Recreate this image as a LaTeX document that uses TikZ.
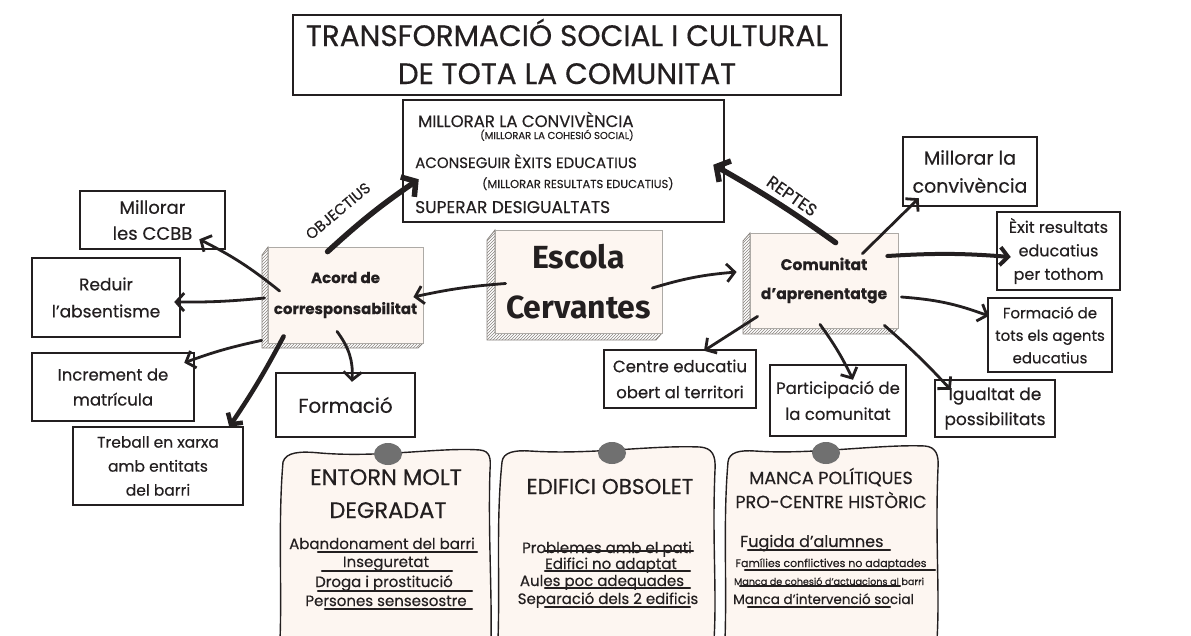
\documentclass[tikz,border=0pt]{standalone}
\usepackage{fontspec}
\setmainfont{Poppins}[FakeBold=0.4]
\newfontfamily\firaf{Fira Sans}
\usetikzlibrary{arrows.meta,calc,patterns}
\definecolor{ink}{HTML}{231F20}
\definecolor{cream}{HTML}{FDF6F1}
\definecolor{pingrey}{HTML}{707070}
\definecolor{sidegrey}{HTML}{8A8580}
\tikzset{
  fs/.style 2 args={font=\fontsize{#1}{#2}\selectfont},
  lbl/.style={draw=ink,line width=2.5pt,fill=white,inner sep=0pt,align=center,text=ink},
  face/.style={draw=sidegrey!70,line width=0.8pt,fill=cream,inner sep=0pt,align=center,text=ink},
  side/.style={draw=sidegrey,line width=0.8pt,pattern=north east lines,pattern color=sidegrey},
  arr/.style={draw=ink,line width=2.8pt,line cap=round,-{Straight Barb[length=8pt,width=18pt]}},
  arrthick/.style={draw=ink,line width=5.5pt,line cap=round,-{Straight Barb[length=10pt,width=24pt]}},
  note/.style={draw=ink,line width=1.4pt,fill=cream},
  pin/.style={fill=pingrey,draw=none},
  ul/.style={draw=ink,line width=2.2pt,line cap=round},
  txt/.style={text=ink,inner sep=0pt}
}
\begin{document}
\begin{tikzpicture}[x=1pt,y=-1pt]
\clip (0,0) rectangle (1191,635);
\fill[white] (0,0) rectangle (1191,635);

% title
\node[lbl,minimum width=548pt,minimum height=80pt] (title) at (567,55) {};
\node[txt,fs={29.5}{32},anchor=base] (t1) at (567,46) {TRANSFORMACIÓ SOCIAL I CULTURAL};
\node[txt,fs={29.5}{32},anchor=base] (t2) at (567,84) {DE TOTA LA COMUNITAT};

% objectives
\node[lbl,minimum width=321pt,minimum height=122pt] (obj) at (563.5,161) {};
\node[txt,fs={16.5}{18},anchor=base west] (o1) at (418,127) {MILLORAR LA CONVIVÈNCIA};
\node[txt,fs={10}{11},anchor=base west] (o2) at (480,139) {(MILLORAR LA COHESIÓ SOCIAL)};
\node[txt,fs={15}{17},anchor=base west] (o3) at (415,168) {ACONSEGUIR ÈXITS EDUCATIUS};
\node[txt,fs={11.5}{13},anchor=base west] (o4) at (482,188) {(MILLORAR RESULTATS EDUCATIUS)};
\node[txt,fs={17}{19},anchor=base west] (o5) at (415,213) {SUPERAR DESIGUALTATS};

% 3D boxes
\draw[side] (495,230) -- (487,240) -- (487,340) -- (656,340) -- (662,333) -- (495,333) -- cycle;
\node[face,minimum width=167pt,minimum height=103pt,font=\firaf\bfseries\fontsize{32}{50}\selectfont] (escola) at (578.5,281.5) {Escola\\Cervantes};

\draw[side] (268,247) -- (262,255) -- (262,348) -- (418,348) -- (423,343) -- (268,343) -- cycle;
\node[face,minimum width=155pt,minimum height=96pt,font=\bfseries\fontsize{15}{31}\selectfont] (acord) at (345.5,295) {Acord de\\corresponsabilitat};

\draw[side] (750,233) -- (743,241) -- (743,334) -- (893,334) -- (898,328) -- (750,328) -- cycle;
\node[face,minimum width=148pt,minimum height=95pt,font=\bfseries\fontsize{15.5}{29}\selectfont] (com) at (824,280.5) {Comunitat\\d'aprenentatge};

% left boxes
\node[lbl,minimum width=145pt,minimum height=58pt,fs={18}{26}] (ccbb) at (152.5,220) {Millorar\\les CCBB};
\node[lbl,minimum width=148pt,minimum height=79pt,fs={17}{27}] (reduir) at (106,297.5) {Reduir\\l'absentisme};
\node[lbl,minimum width=162pt,minimum height=68pt,fs={16.5}{25}] (incr) at (113,387) {Increment de\\matrícula};
\node[lbl,minimum width=170pt,minimum height=78pt,fs={15.5}{24}] (treball) at (158,466) {Treball en xarxa\\amb entitats\\del barri};
\node[lbl,minimum width=139pt,minimum height=64pt,fs={20}{22}] (formacio) at (345.5,405) {Formació};

% right boxes
\node[lbl,minimum width=134pt,minimum height=69pt,fs={19}{28}] (conv) at (970,171.5) {Millorar la\\convivència};
\node[lbl,minimum width=123pt,minimum height=78pt,fs={16}{23.5}] (exit) at (1058.5,251) {Èxit resultats\\educatius\\per tothom};
\node[lbl,minimum width=124pt,minimum height=74pt,fs={15}{22.5}] (formtots) at (1050,335) {Formació de\\tots els agents\\educatius};
\node[lbl,minimum width=120pt,minimum height=57pt,fs={17}{25}] (igual) at (995,408.5) {Igualtat de\\possibilitats};
\node[lbl,minimum width=136pt,minimum height=71pt,fs={16.5}{26}] (part) at (838,400.5) {Participació de\\la comunitat};
\node[lbl,minimum width=152pt,minimum height=58pt,fs={16.5}{26}] (centre) at (680,379) {Centre educatiu\\obert al territori};

% arrows
\draw[arrthick] ($(acord.north west)+(60,5)$) to[bend left=4] ($(obj.south west)+(17,-44)$);
\node[txt,fs={15}{17},rotate=40] (lobj) at (338,211) {OBJECTIUS};
\draw[arrthick] ($(com.north west)+(86,10)$) to[bend right=3] ($(obj.north east)+(-12,66)$);
\node[txt,fs={17}{19},rotate=-35] (lrep) at (792,196) {REPTES};

\draw[arr] ($(escola.west)+(11,2)$) to[bend right=4] ($(acord.east)+(-10,2)$);
\draw[arr] ($(escola.east)+(-10,6.5)$) to[bend left=6] ($(com.west)+(-13,-8.5)$);

\draw[arr] ($(acord.west)+(12,-4)$) to[bend right=6] ($(ccbb.south east)+(-27,-11)$);
\draw[arr] ($(acord.west)+(-3,3)$) to[bend left=3] ($(reduir.east)+(-7,4.5)$);
\draw[arr] ($(acord.south west)+(-6,-3)$) to[bend right=4] ($(incr.north east)+(-11,11)$);
\draw[arr,line width=4.5pt] ($(acord.south west)+(16,-7)$) to[bend left=3] ($(treball.north east)+(-15,1)$);
\draw[arr] ($(acord.south)+(-8.5,-12)$) to[bend left=20] ($(formacio.north)+(6.5,10)$);

\draw[arr] ($(com.north east)+(-36,21)$) -- ($(conv.south west)+(17,-9)$);
\draw[arr,line width=4pt] ($(com.east)+(-11,-24.5)$) to[bend left=4] ($(exit.west)+(15,6)$);
\draw[arr] ($(com.east)+(3,16.5)$) to[bend left=8] ($(formtots.west)+(2,-19)$);
\draw[arr] ($(com.south east)+(-14,-3)$) to[bend left=3] ($(igual.north west)+(17,11)$);
\draw[arr] ($(com.south)+(-4,-4)$) to[bend left=5] ($(part.north)+(15,16)$);
\draw[arr] ($(com.south west)+(8,-12)$) -- ($(centre.north)+(24,2)$);

% notes
\draw[note] (283,462) .. controls (286,452) and (300,451) .. (320,453) .. controls (380,458) and (440,447) .. (480,450) .. controls (490,451) and (491,458) .. (490,470) .. controls (488,530) and (492,590) .. (491,640) -- (280,640) .. controls (282,590) and (278,520) .. (283,462) -- cycle;
\draw[note] (502,462) .. controls (503,452) and (515,450) .. (530,451) .. controls (590,455) and (650,445) .. (700,447) .. controls (712,448) and (716,455) .. (715,470) .. controls (712,540) and (717,590) .. (714,640) -- (498,640) .. controls (500,580) and (496,520) .. (502,462) -- cycle;
\draw[note] (728,462) .. controls (729,452) and (740,450) .. (755,451) .. controls (810,455) and (880,444) .. (925,446) .. controls (936,447) and (939,455) .. (938,468) .. controls (935,540) and (940,590) .. (937,640) -- (725,640) .. controls (727,580) and (723,520) .. (728,462) -- cycle;
\fill[pin] (388,454) ellipse [x radius=14, y radius=11];
\fill[pin] (612,453) ellipse [x radius=14, y radius=11];
\fill[pin] (826,453) ellipse [x radius=14, y radius=11];

% note 1
\node[txt,fs={22.5}{24},anchor=base] (n1a) at (386,485) {ENTORN MOLT};
\node[txt,fs={22.5}{24},anchor=base] (n1b) at (388,518) {DEGRADAT};
\node[txt,fs={15}{16},anchor=base] (n1c) at (382,549) {Abandonament del barri};
\node[txt,fs={15}{16},anchor=base] (n1d) at (386,567) {Inseguretat};
\node[txt,fs={15}{16},anchor=base] (n1e) at (384,587) {Droga i prostitució};
\node[txt,fs={15}{16},anchor=base] (n1f) at (386,606) {Persones sensesostre};
\draw[ul] (318,552) -- (477,552);
\draw[ul] (322,571) -- (452,571);
\draw[ul] (318,591) -- (472,591);
\draw[ul] (325,609) -- (472,609);

% note 2
\node[txt,fs={21.5}{23},anchor=base] (n2a) at (610,494) {EDIFICI OBSOLET};
\node[txt,fs={15}{16},anchor=base] (n2b) at (607,553) {Problemes amb el pati};
\node[txt,fs={15}{16},anchor=base] (n2c) at (611,569) {Edifici no adaptat};
\node[txt,fs={15}{16},anchor=base] (n2d) at (602,586) {Aules poc adequades};
\node[txt,fs={15}{16},anchor=base] (n2e) at (608,604) {Separació dels 2 edificis};
\draw[ul] (545,551) -- (693,551);
\draw[ul] (545,571) -- (690,571);
\draw[ul] (545,588) -- (690,588);
\draw[ul] (545,607) -- (690,607);

% note 3
\node[txt,fs={17.5}{19},anchor=base] (n3a) at (831,484) {MANCA POLÍTIQUES};
\node[txt,fs={17.5}{19},anchor=base] (n3b) at (831,508) {PRO-CENTRE HISTÒRIC};
\node[txt,fs={16}{18},anchor=base west] (n3c) at (740,547) {Fugida d'alumnes};
\node[txt,fs={11}{12},anchor=base] (n3d) at (831,567) {Famílies conflictives no adaptades};
\node[txt,fs={9.6}{11},anchor=base] (n3e) at (829,585) {Manca de cohesió d'actuacions al barri};
\node[txt,fs={13.5}{15},anchor=base west] (n3f) at (733,604) {Manca d'intervenció social};
\draw[ul] (748,550) -- (890,550);
\draw[ul] (745,570) -- (935,570);
\draw[ul] (740,586) -- (900,586);
\draw[ul] (748,607) -- (890,607);
\end{tikzpicture}
\end{document}
